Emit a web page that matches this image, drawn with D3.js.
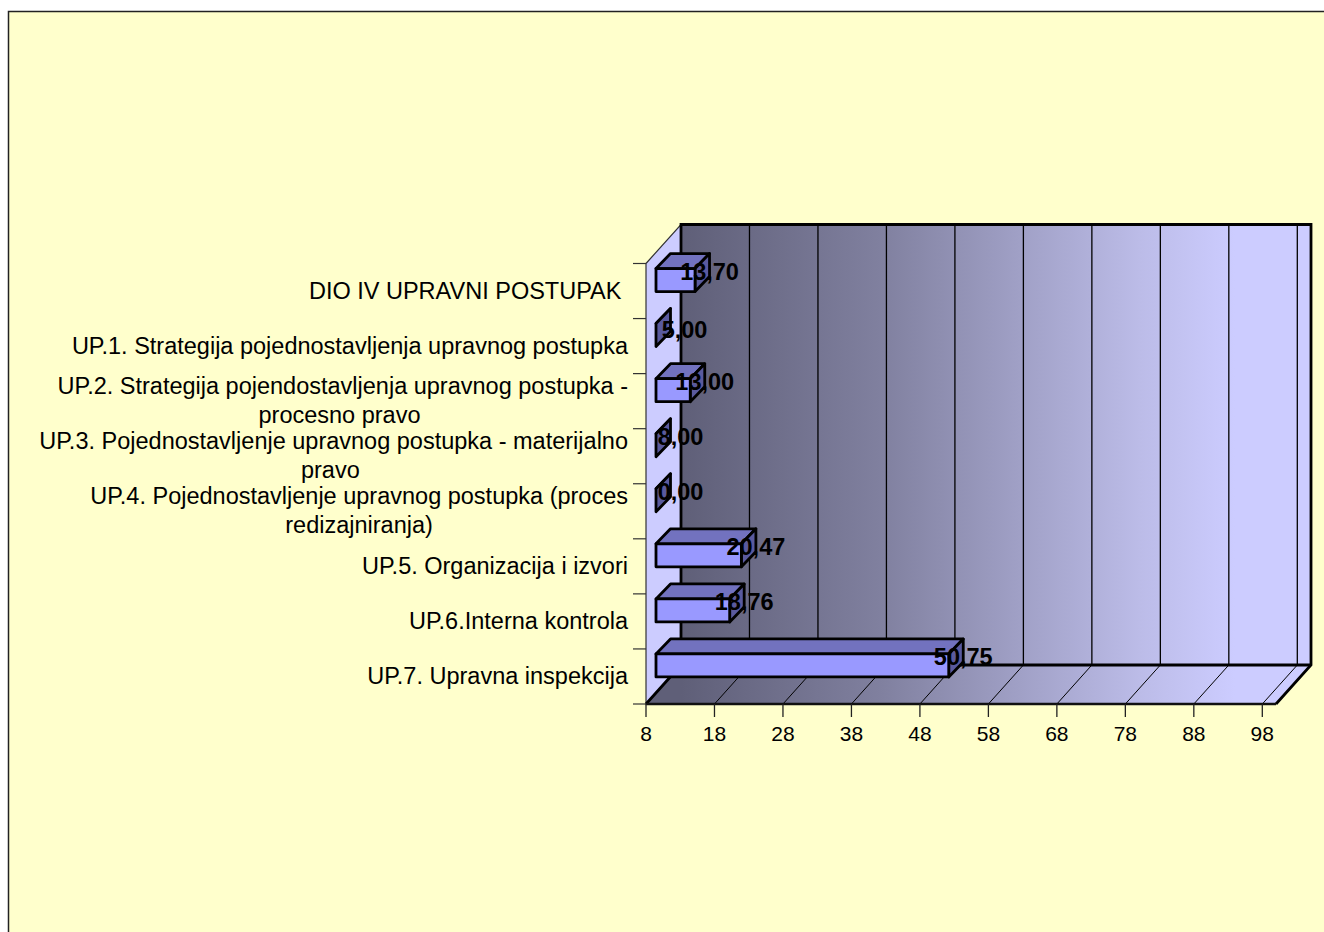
<!DOCTYPE html>
<html>
<head>
<meta charset="utf-8">
<script src="https://cdn.jsdelivr.net/npm/d3@7"></script>
<style>
  html, body { margin: 0; padding: 0; background: #fff; overflow: hidden; }
  svg { display: block; font-family: "Liberation Sans", Arial, sans-serif; }
  .cat { font-size: 23.5px; fill: #000; white-space: pre; }
  .tick-label { font-size: 21px; fill: #000; text-anchor: middle; }
  .value { font-size: 23.5px; font-weight: bold; fill: #000; text-anchor: middle; }
</style>
</head>
<body>
<svg id="chart" width="1324" height="932"></svg>
<script>
/* ── Data ─────────────────────────────────────────────────────────────────── */

const categories = [
  ["DIO IV UPRAVNI POSTUPAK "],
  ["UP.1. Strategija pojednostavljenja upravnog postupka"],
  ["UP.2. Strategija pojendostavljenja upravnog postupka -", "procesno pravo "],
  ["UP.3. Pojednostavljenje upravnog postupka - materijalno", "pravo "],
  ["UP.4. Pojednostavljenje upravnog postupka (proces", "redizajniranja)"],
  ["UP.5. Organizacija i izvori"],
  ["UP.6.Interna kontrola"],
  ["UP.7. Upravna inspekcija"],
];
const values = [13.7, 5, 13, 8, 0, 20.47, 18.76, 50.75];
const tickValues = [8, 18, 28, 38, 48, 58, 68, 78, 88, 98];

/* ── Layout ───────────────────────────────────────────────────────────────── */

const AXIS_MIN = 8;
const AXIS_MAX = 100;
const DEPTH = { x: 35, y: -39 };      // floor / wall depth
const BAR_DEPTH = { x: 14.5, y: -15 };
const BAR_INSET = { x: 10, y: -11 };  // bars sit a bit behind the front plane
const BAR_H = 23;

const svg = d3.select("#chart");
const x = d3.scaleLinear().domain([AXIS_MIN, AXIS_MAX]).range([646, 1276]);
const y = d3.scaleBand().domain(d3.range(categories.length)).range([263.5, 704]);

const left = x(AXIS_MIN);
const right = x(AXIS_MAX);
const top_ = y.range()[0];
const bottom = y.range()[1];

const poly = (pts) => pts.map((p) => p.join(",")).join(" ");
const fmt = (v) => v.toFixed(2).replace(".", ",");

/* ── Background ───────────────────────────────────────────────────────────── */

const defs = svg.append("defs");
const grad = defs.append("linearGradient")
  .attr("id", "wall")
  .attr("gradientUnits", "userSpaceOnUse")
  .attr("x1", 681).attr("x2", 1235)
  .attr("y1", 0).attr("y2", 0);
[
  [0, "#5f5f78"],
  [0.36, "#80809f"],
  [0.83, "#bcbce8"],
  [1, "#ccccff"],
].forEach(([o, c]) => grad.append("stop").attr("offset", o).attr("stop-color", c));

svg.append("rect")
  .attr("x", 8.5).attr("y", 11.5)
  .attr("width", 1330).attr("height", 940)
  .attr("fill", "#ffffcc")
  .attr("stroke", "#222")
  .attr("stroke-width", 1.5);

/* ── Walls and floor ──────────────────────────────────────────────────────── */

// side wall
svg.append("polygon")
  .attr("points", poly([
    [left, top_], [left + DEPTH.x, top_ + DEPTH.y],
    [left + DEPTH.x, bottom + DEPTH.y], [left, bottom],
  ]))
  .attr("fill", "#ccccff")
  .attr("stroke", "#333")
  .attr("stroke-width", 1.2);

// back wall
svg.append("rect")
  .attr("x", left + DEPTH.x).attr("y", top_ + DEPTH.y)
  .attr("width", right - left)
  .attr("height", bottom - top_)
  .attr("fill", "url(#wall)");

// floor
svg.append("polygon")
  .attr("points", poly([
    [left, bottom], [right, bottom],
    [right + DEPTH.x, bottom + DEPTH.y], [left + DEPTH.x, bottom + DEPTH.y],
  ]))
  .attr("fill", "url(#wall)");

// gridlines, wall and floor
tickValues.forEach((t) => {
  if (t === AXIS_MIN) return;
  svg.append("line")
    .attr("x1", x(t) + DEPTH.x).attr("x2", x(t) + DEPTH.x)
    .attr("y1", top_ + DEPTH.y).attr("y2", bottom + DEPTH.y)
    .attr("stroke", "#000").attr("stroke-width", 1.3);
  svg.append("line")
    .attr("x1", x(t)).attr("x2", x(t) + DEPTH.x)
    .attr("y1", bottom).attr("y2", bottom + DEPTH.y)
    .attr("stroke", "#000").attr("stroke-width", 1);
});

// wall outlines
svg.append("polyline")
  .attr("points", poly([
    [left + DEPTH.x, bottom + DEPTH.y], [left + DEPTH.x, top_ + DEPTH.y],
    [right + DEPTH.x, top_ + DEPTH.y], [right + DEPTH.x, bottom + DEPTH.y],
    [right, bottom],
  ]))
  .attr("fill", "none").attr("stroke", "#000").attr("stroke-width", 2.8);
svg.append("polyline")
  .attr("points", poly([
    [left, bottom], [left + DEPTH.x, bottom + DEPTH.y], [right + DEPTH.x, bottom + DEPTH.y],
  ]))
  .attr("fill", "none").attr("stroke", "#000").attr("stroke-width", 2.8);

/* ── Axes ─────────────────────────────────────────────────────────────────── */

svg.append("line")
  .attr("x1", left).attr("x2", right)
  .attr("y1", bottom).attr("y2", bottom)
  .attr("stroke", "#111").attr("stroke-width", 2.4);

tickValues.forEach((t) => {
  svg.append("line")
    .attr("x1", x(t)).attr("x2", x(t))
    .attr("y1", bottom).attr("y2", bottom + 13)
    .attr("stroke", "#222").attr("stroke-width", 1.3);
  svg.append("text")
    .attr("class", "tick-label")
    .attr("x", x(t)).attr("y", bottom + 37)
    .text(t);
});

d3.range(categories.length + 1).forEach((i) => {
  const ty = i < categories.length ? y(i) : bottom;
  svg.append("line")
    .attr("x1", left - 13).attr("x2", left)
    .attr("y1", ty).attr("y2", ty)
    .attr("stroke", "#333").attr("stroke-width", 1.2);
});

/* ── Category labels ──────────────────────────────────────────────────────── */

categories.forEach((lines, i) => {
  const cy = y(i) + y.bandwidth() / 2;
  const first = svg.append("text")
    .attr("class", "cat")
    .attr("text-anchor", "end")
    .attr("x", 628)
    .attr("y", cy + (lines.length > 1 ? -7 : 8))
    .text(lines[0]);
  if (lines.length > 1) {
    const w = first.node().getComputedTextLength();
    svg.append("text")
      .attr("class", "cat")
      .attr("text-anchor", "middle")
      .attr("x", 628 - w / 2)
      .attr("y", cy + 22)
      .text(lines[1]);
  }
});

/* ── Bars ─────────────────────────────────────────────────────────────────── */

const bars = svg.append("g")
  .selectAll("g")
  .data(values)
  .join("g")
  .attr("stroke", "#000")
  .attr("stroke-width", 2.8)
  .attr("stroke-linejoin", "round");

const barX0 = left + BAR_INSET.x;
const barX1 = (v) => x(Math.max(v, AXIS_MIN)) + BAR_INSET.x;
const barY = (i) => y(i) + y.bandwidth() / 2 + BAR_INSET.y - BAR_H / 2;

bars.append("polygon") // top
  .attr("fill", "#7272bf")
  .attr("points", (v, i) => poly([
    [barX0, barY(i)], [barX1(v), barY(i)],
    [barX1(v) + BAR_DEPTH.x, barY(i) + BAR_DEPTH.y],
    [barX0 + BAR_DEPTH.x, barY(i) + BAR_DEPTH.y],
  ]));
bars.append("polygon") // side
  .attr("fill", "#5a5a9e")
  .attr("points", (v, i) => poly([
    [barX1(v), barY(i)], [barX1(v) + BAR_DEPTH.x, barY(i) + BAR_DEPTH.y],
    [barX1(v) + BAR_DEPTH.x, barY(i) + BAR_DEPTH.y + BAR_H], [barX1(v), barY(i) + BAR_H],
  ]));
bars.append("rect") // front
  .attr("fill", "#9999ff")
  .attr("x", barX0)
  .attr("y", (v, i) => barY(i))
  .attr("width", (v) => barX1(v) - barX0)
  .attr("height", BAR_H);

/* ── Value labels ─────────────────────────────────────────────────────────── */

svg.append("g")
  .selectAll("text")
  .data(values)
  .join("text")
  .attr("class", "value")
  .attr("x", (v) => {
    const base = barX1(v) + BAR_DEPTH.x;
    if (v === 5) return base + 14; // this one sits a bit further right
    return v <= AXIS_MIN ? base + 10 : base;
  })
  .attr("y", (v, i) => y(i) + y.bandwidth() / 2 + (v === 5 ? -8.5 : -11.5))
  .text(fmt);
</script>
</body>
</html>
